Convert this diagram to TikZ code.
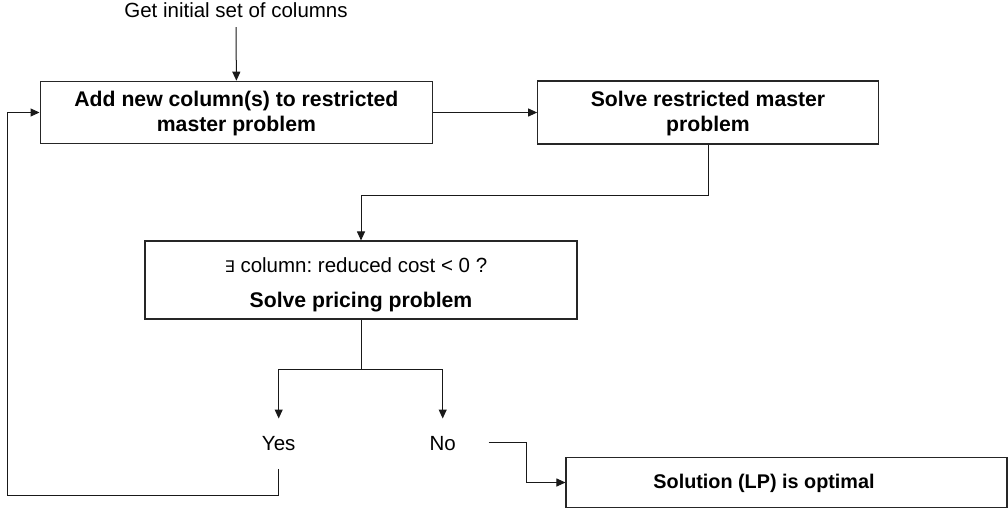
\documentclass[tikz,border=0pt]{standalone}
\usepackage{fontspec}
\setmainfont{Liberation Sans}
\newfontfamily\dejavu{DejaVu Sans}
\usetikzlibrary{arrows.meta}
\frenchspacing
\tikzset{
  box/.style={draw=black!85, line width=1.1pt, inner sep=0pt, fill=white},
  txt/.style={inner sep=0pt, text height=14pt, text depth=4pt, font=\fontsize{20.5}{24}\selectfont},
  btxt/.style={inner sep=0pt, align=center, font=\fontsize{21.2}{25}\selectfont\bfseries},
  conn/.style={line width=1pt, draw=black!90},
  arr/.style={conn, -{Triangle[length=9pt,width=8pt]}},
}
\begin{document}
\begin{tikzpicture}[x=1pt,y=-1pt]
\useasboundingbox (0,0) rectangle (1008,514);
% nodes
\node[txt] (init) at (236,12) {Get initial set of columns};
\node[box, minimum width=392.7pt, minimum height=62.5pt] (A) at (236.4,112.5) {};
\node[btxt] (Atext) at (236.4,114) {Add new column(s) to restricted\\master problem};
\node[box, minimum width=340.6pt, minimum height=63pt] (B) at (708,112.5) {};
\node[btxt] (Btext) at (708,114) {Solve restricted master\\problem};
\node[box, minimum width=432pt, minimum height=78pt] (C) at (361,280) {};
\node[txt] (Cq) at (356,267) {{\dejavu\fontsize{16}{20}\selectfont ∃} column: reduced cost < 0 ?};
\node[btxt] (Cs) at (361,302) {Solve pricing problem};
\node[txt] (yes) at (278.7,445) {Yes};
\node[txt] (no) at (442.7,445) {No};
\node[box, minimum width=441pt, minimum height=50.4pt] (D) at (786.5,482.5) {};
\node[btxt, font=\fontsize{19.8}{24}\selectfont\bfseries] (Dtext) at (764,483) {Solution (LP) is optimal};
% coordinates
\coordinate (bc) at (708,195);
\coordinate (split) at (361,369);
\coordinate (lb) at (7.7,495.7);
\coordinate (nd) at (526.7,442.3);
% connectors
\draw[arr] ([yshift=-6pt]init.south) -- (A.north);
\draw[arr] (A.east) -- (B.west);
\draw[arr] (B.south) -- (bc) -| (C.north);
\draw[conn] (C.south) -- (split);
\draw[arr] (split) -| ([yshift=17.3pt]yes.north);
\draw[arr] (split) -| ([yshift=17.3pt]no.north);
\draw[arr] ([yshift=-14.7pt]yes.south) |- (lb) |- (A.west);
\draw[arr] ([xshift=32.5pt]no.east |- nd) -- (nd) |- (D.west);
\end{tikzpicture}
\end{document}
